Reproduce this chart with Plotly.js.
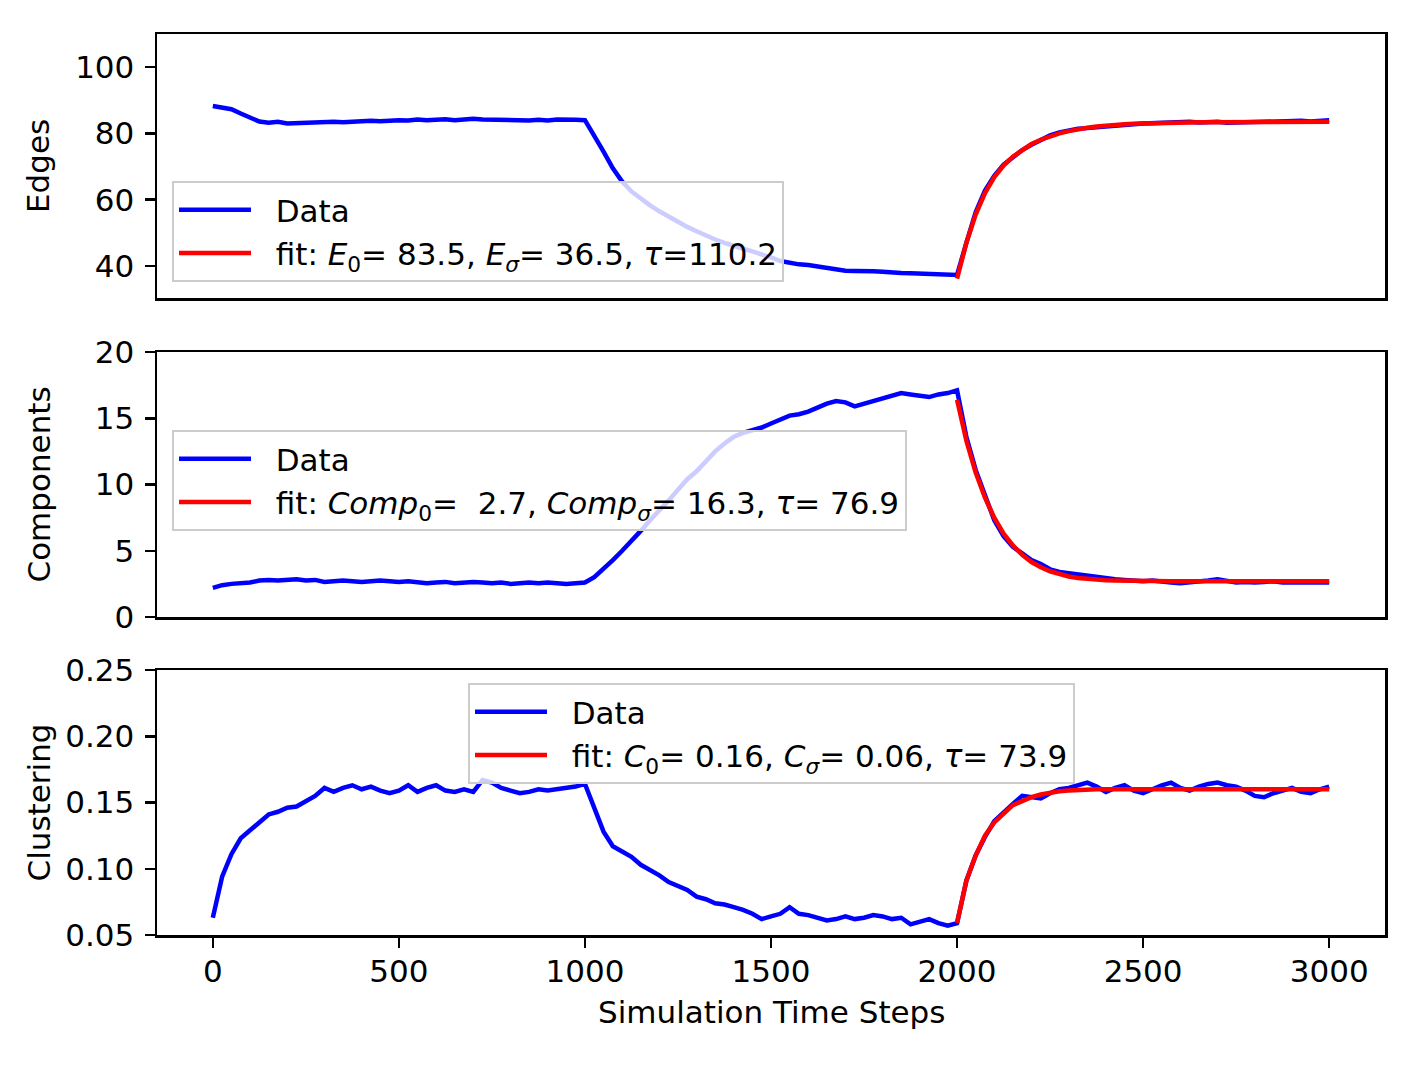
<!DOCTYPE html>
<html>
<head>
<meta charset="utf-8">
<script src="https://cdn.plot.ly/plotly-3.0.1.min.js"></script>
<style>
  body { margin: 0; background: #fff; }
  #chart { width: 1419px; height: 1065px; }
</style>
</head>
<body>
<div id="chart"></div>
<script>
// simulation time grid, one reading every 25 steps
var steps = [];
for (var s = 0; s <= 3000; s += 25) steps.push(s);
// the fits only cover the last third
var fitSteps = steps.filter(function (s) { return s >= 2000; });

// Edges
var edges = [
  88.3, 87.8, 87.3, 86.0, 84.8, 83.6, 83.2, 83.5, 83.0, 83.1,
  83.4, 83.2, 83.3, 83.5, 83.4, 83.6, 83.5, 83.8, 83.7, 83.9,
  84.0, 83.9, 84.2, 84.0, 84.1, 84.3, 84.0, 84.2, 84.4, 84.2,
  84.1, 84.3, 84.0, 83.8, 83.9, 84.1, 83.9, 84.2, 84.3, 84.1,
  84.0, 79.5, 74.5, 69.5, 65.5, 62.5, 60.2, 58.3, 56.5, 54.8,
  53.2, 51.8, 50.5, 49.2, 48.0, 47.0, 46.0, 45.2, 44.4, 43.6,
  42.6, 41.5, 40.9, 40.5, 40.3, 39.8, 39.3, 38.9, 38.6, 38.5,
  38.6, 38.4, 38.3, 38.0, 37.9, 37.8, 37.7, 37.8, 37.6, 37.7,
  37.3, 47.0, 56.2, 62.8, 67.2, 70.6, 73.0, 75.0, 76.6, 78.0,
  79.4, 80.3, 81.0, 81.4, 81.6, 81.9, 82.2, 82.4, 82.6, 82.8,
  83.0, 83.1, 83.3, 83.2, 83.4, 83.5, 83.3, 83.4, 83.5, 83.2,
  83.3, 83.4, 83.5, 83.4, 83.6, 83.7, 84.0, 83.8, 83.6, 83.8,
  84.0
];
var edgesFit = [
  36.2, 47.0, 55.5, 62.0, 66.8, 70.3, 73.0, 75.1, 76.8, 78.1,
  79.2, 80.0, 80.7, 81.3, 81.7, 82.1, 82.4, 82.6, 82.8, 82.95,
  83.05, 83.15, 83.2, 83.25, 83.3, 83.35, 83.38, 83.4, 83.42, 83.44,
  83.45, 83.46, 83.47, 83.48, 83.48, 83.49, 83.49, 83.5, 83.5, 83.5,
  83.5
];

// Components (middle panel)
var components = [
  2.2, 2.4, 2.5, 2.55, 2.6, 2.75, 2.8, 2.75, 2.8, 2.85,
  2.75, 2.8, 2.65, 2.7, 2.75, 2.7, 2.65, 2.7, 2.75, 2.7,
  2.65, 2.7, 2.6, 2.55, 2.6, 2.65, 2.55, 2.6, 2.65, 2.6,
  2.55, 2.6, 2.5, 2.55, 2.6, 2.55, 2.6, 2.55, 2.5, 2.55,
  2.6, 3.0, 3.6, 4.3, 5.0, 5.7, 6.5, 7.3, 8.0, 8.8,
  9.6, 10.4, 11.0, 11.8, 12.5, 13.1, 13.6, 13.9, 14.1, 14.3,
  14.6, 14.9, 15.2, 15.3, 15.5, 15.8, 16.1, 16.3, 16.2, 15.9,
  16.1, 16.3, 16.5, 16.7, 16.9, 16.8, 16.7, 16.6, 16.8, 16.9,
  17.1, 13.6, 11.1, 9.1, 7.3, 6.1, 5.3, 4.8, 4.3, 4.0,
  3.6, 3.4, 3.3, 3.2, 3.1, 3.0, 2.95, 2.85, 2.8, 2.75,
  2.7, 2.75, 2.65, 2.6, 2.55, 2.6, 2.7, 2.75, 2.85, 2.7,
  2.6, 2.65, 2.6, 2.65, 2.7, 2.6, 2.6, 2.55, 2.55, 2.6,
  2.6
];
var componentsFit = [
  16.4, 13.3, 10.9, 9.0, 7.5, 6.3, 5.4, 4.7, 4.15, 3.75,
  3.45, 3.22, 3.06, 2.95, 2.87, 2.81, 2.77, 2.75, 2.73, 2.72,
  2.71, 2.7, 2.7, 2.7, 2.7, 2.7, 2.7, 2.7, 2.7, 2.7,
  2.7, 2.7, 2.7, 2.7, 2.7, 2.7, 2.7, 2.7, 2.7, 2.7,
  2.7
];

// Clustering (bottom panel)
var clustering = [
  0.063, 0.094, 0.111, 0.123, 0.129, 0.135, 0.141, 0.143, 0.146, 0.147,
  0.151, 0.155, 0.161, 0.158, 0.161, 0.163, 0.160, 0.162, 0.159, 0.157,
  0.159, 0.163, 0.158, 0.161, 0.163, 0.159, 0.158, 0.160, 0.158, 0.167,
  0.165, 0.161, 0.159, 0.157, 0.158, 0.160, 0.159, 0.160, 0.161, 0.162,
  0.164, 0.145, 0.128, 0.117, 0.113, 0.109, 0.103, 0.099, 0.095, 0.090,
  0.087, 0.084, 0.079, 0.077, 0.074, 0.073, 0.071, 0.069, 0.066, 0.062,
  0.064, 0.066, 0.071, 0.066, 0.065, 0.063, 0.061, 0.062, 0.064, 0.062,
  0.063, 0.065, 0.064, 0.062, 0.063, 0.058, 0.060, 0.062, 0.059, 0.057,
  0.059, 0.091, 0.110, 0.124, 0.136, 0.143, 0.149, 0.155, 0.154, 0.153,
  0.157, 0.160, 0.161, 0.163, 0.165, 0.162, 0.158, 0.161, 0.163, 0.159,
  0.157, 0.160, 0.163, 0.165, 0.161, 0.159, 0.162, 0.164, 0.165, 0.163,
  0.162, 0.159, 0.155, 0.154, 0.157, 0.159, 0.161, 0.158, 0.157, 0.160,
  0.162
];
var clusteringFit = [
  0.059, 0.091, 0.110, 0.125, 0.135, 0.142, 0.148, 0.151, 0.154, 0.156,
  0.1575, 0.1585, 0.159, 0.1595, 0.1598, 0.16, 0.16, 0.16, 0.16, 0.16,
  0.16, 0.16, 0.16, 0.16, 0.16, 0.16, 0.16, 0.16, 0.16, 0.16,
  0.16, 0.16, 0.16, 0.16, 0.16, 0.16, 0.16, 0.16, 0.16, 0.16,
  0.16
];

// legend labels (leading spaces give the gap after the line sample)
var gap = "\u00a0\u00a0";
var dataLabel = gap + "Data";
var edgesFitLabel = gap + "fit: <i>E</i><sub>0</sub>= 83.5, <i>E<sub>σ</sub></i>= 36.5, <i>τ</i>=110.2";
var compFitLabel = gap + "fit: <i>Comp</i><sub>0</sub>=\u00a0\u00a02.7, <i>Comp<sub>σ</sub></i>= 16.3, <i>τ</i>= 76.9";
var clustFitLabel = gap + "fit: <i>C</i><sub>0</sub>= 0.16, <i>C<sub>σ</sub></i>= 0.06, <i>τ</i>= 73.9";

var xTicks = [0, 500, 1000, 1500, 2000, 2500, 3000];

var W = 1419, H = 1065;
var FONT = "DejaVu Sans, Liberation Sans, sans-serif";
var FS = 31;

// pixel helpers so the layout mirrors the reference frame
function px(x) { return x / W; }
function py(y) { return 1 - y / H; }

function makeTrace(x, y, name, color, xa, ya, leg) {
  return {
    x: x, y: y, name: name, type: 'scatter', mode: 'lines',
    line: {color: color, width: 4.5},
    xaxis: xa, yaxis: ya, legend: leg
  };
}

var traces = [
  makeTrace(steps, edges, dataLabel, 'blue', 'x', 'y', 'legend'),
  makeTrace(fitSteps, edgesFit, edgesFitLabel, 'red', 'x', 'y', 'legend'),
  makeTrace(steps, components, dataLabel, 'blue', 'x2', 'y2', 'legend2'),
  makeTrace(fitSteps, componentsFit, compFitLabel, 'red', 'x2', 'y2', 'legend2'),
  makeTrace(steps, clustering, dataLabel, 'blue', 'x3', 'y3', 'legend3'),
  makeTrace(fitSteps, clusteringFit, clustFitLabel, 'red', 'x3', 'y3', 'legend3')
];

function frameAxis(extra) {
  var a = {
    showline: true, mirror: true, linecolor: 'black', linewidth: 2.5,
    showgrid: false, zeroline: false,
    ticks: 'outside', ticklen: 10, tickwidth: 2.5, tickcolor: 'black',
    tickfont: {family: FONT, size: FS, color: 'black'},
    fixedrange: true
  };
  for (var k in extra) a[k] = extra[k];
  return a;
}

var xDomain = [px(157), px(1385)];

function legendBox(x, y) {
  return {
    x: x, y: y, xanchor: 'left', yanchor: 'top',
    xref: 'paper', yref: 'paper',
    bgcolor: 'rgba(255,255,255,0.8)', bordercolor: '#cccccc', borderwidth: 2,
    font: {family: FONT, size: FS, color: 'black'},
    tracegroupgap: 0, itemwidth: 72
  };
}

function axisTitle(text, x, y, angle) {
  return {
    text: text, x: x, y: y, xref: 'paper', yref: 'paper',
    showarrow: false, textangle: angle, xanchor: 'center', yanchor: 'middle',
    font: {family: FONT, size: FS, color: 'black'}
  };
}

var layout = {
  width: W, height: H,
  margin: {l: 0, r: 0, t: 0, b: 0},
  paper_bgcolor: 'white', plot_bgcolor: 'white',
  showlegend: true,
  font: {family: FONT, size: FS, color: 'black'},
  xaxis: frameAxis({domain: xDomain, anchor: 'y', range: [-150, 3150], ticks: '', showticklabels: false}),
  xaxis2: frameAxis({domain: xDomain, anchor: 'y2', range: [-150, 3150], ticks: '', showticklabels: false}),
  xaxis3: frameAxis({domain: xDomain, anchor: 'y3', range: [-150, 3150], tickvals: xTicks, ticklabelstandoff: -3}),
  yaxis: frameAxis({domain: [py(298), py(34)], anchor: 'x', range: [30.35, 110],
                    tickvals: [40, 60, 80, 100], ticklabelstandoff: 4}),
  yaxis2: frameAxis({domain: [py(617), py(352)], anchor: 'x2', range: [0, 20],
                     tickvals: [0, 5, 10, 15, 20], ticklabelstandoff: 4}),
  yaxis3: frameAxis({domain: [py(935), py(670)], anchor: 'x3', range: [0.05, 0.25],
                     tickvals: [0.05, 0.10, 0.15, 0.20, 0.25], tickformat: '.2f', ticklabelstandoff: 4}),
  legend: legendBox(px(172), py(181)),
  legend2: legendBox(px(172), py(430)),
  legend3: legendBox(px(468), py(683)),
  annotations: [
    axisTitle('Edges', px(38), py(166), -90),
    axisTitle('Components', px(38), py(484.5), -90),
    axisTitle('Clustering', px(38), py(802.5), -90),
    axisTitle('Simulation Time Steps', px(771), py(1012), 0)
  ]
};

Plotly.newPlot('chart', traces, layout, {staticPlot: true, displayModeBar: false});
</script>
</body>
</html>
